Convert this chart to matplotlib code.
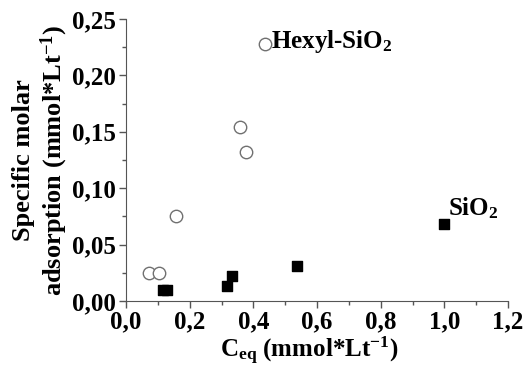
import matplotlib.pyplot as plt
from matplotlib.ticker import MultipleLocator, FuncFormatter

# Дані
hexyl_x = [0.073, 0.105, 0.157, 0.358, 0.376, 0.437]
hexyl_y = [0.025, 0.025, 0.075, 0.154, 0.132, 0.228]

sio2_x = [0.117, 0.130, 0.317, 0.332, 0.538, 1.000]
sio2_y = [0.010, 0.010, 0.013, 0.022, 0.031, 0.068]

plt.rcParams['font.family'] = 'Liberation Serif'
plt.rcParams['font.weight'] = 'bold'
plt.rcParams['axes.labelweight'] = 'bold'
plt.rcParams['mathtext.fontset'] = 'custom'
plt.rcParams['mathtext.rm'] = 'Liberation Serif:bold'
plt.rcParams['mathtext.it'] = 'Liberation Serif:bold'
plt.rcParams['mathtext.bf'] = 'Liberation Serif:bold'

fs = 18

fig = plt.figure(figsize=(5.25, 3.68), dpi=100)
ax = fig.add_axes([126 / 525, 67 / 368, 382 / 525, 282 / 368])

ax.scatter(hexyl_x, hexyl_y, s=80, facecolors='white', edgecolors='#707070', linewidths=1.0, zorder=3)
ax.scatter(sio2_x, sio2_y, s=55, marker='s', color='black', zorder=3)

ax.text(0.455, 0.2245, r'Hexyl-SiO$_2$', fontsize=fs, va='baseline', ha='left')
ax.text(1.01, 0.076, r'SiO$_2$', fontsize=fs, va='baseline', ha='left')

ax.set_xlim(0, 1.2)
ax.set_ylim(0, 0.25)
ax.xaxis.set_major_locator(MultipleLocator(0.2))
ax.xaxis.set_minor_locator(MultipleLocator(0.1))
ax.yaxis.set_major_locator(MultipleLocator(0.05))
ax.yaxis.set_minor_locator(MultipleLocator(0.025))
ax.xaxis.set_major_formatter(FuncFormatter(lambda v, p: f'{v:.1f}'.replace('.', ',')))
ax.yaxis.set_major_formatter(FuncFormatter(lambda v, p: f'{v:.2f}'.replace('.', ',')))

for side in ['top', 'right']:
    ax.spines[side].set_visible(False)
for side in ['left', 'bottom']:
    ax.spines[side].set_color('#555555')
ax.tick_params(which='major', length=5, width=1, colors='#555555', labelcolor='black', labelsize=fs, pad=2)
ax.tick_params(which='minor', length=3, width=1, colors='#555555')

ax.set_xlabel(r'C$_{\mathrm{eq}}$ (mmol*Lt$^{\mathrm{-1}}$)', fontsize=fs)
ax.xaxis.set_label_coords(0.48, -0.12)
ax.set_ylabel('Specific molar\n' + r'adsorption (mmol*Lt$^{\mathrm{-1}}$)', fontsize=19, labelpad=2, linespacing=1.15)

fig.savefig('out.png', dpi=100)
